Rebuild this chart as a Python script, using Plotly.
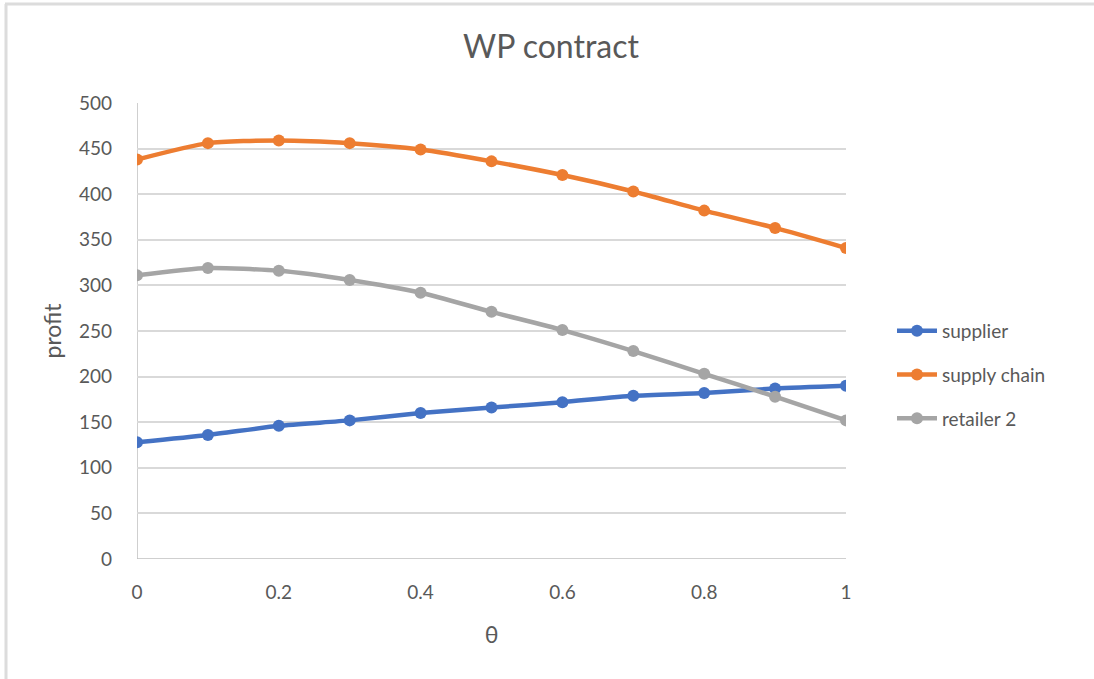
import plotly.graph_objects as go

# θ values on the x axis
theta = [0, 0.1, 0.2, 0.3, 0.4, 0.5, 0.6, 0.7, 0.8, 0.9, 1]

# profit for each party
supplier = [128, 136, 146, 152, 160, 166, 172, 179, 182, 187, 190]
supply_chain = [438, 456, 459, 456, 449, 436, 421, 403, 382, 363, 341]
retailer2 = [311, 319, 316, 306, 292, 271, 251, 228, 203, 178, 152]

y_ticks = [0, 50, 100, 150, 200, 250, 300, 350, 400, 450, 500]
x_ticks = [0, 0.2, 0.4, 0.6, 0.8, 1]
x_tick_text = ["0", "0.2", "0.4", "0.6", "0.8", "1"]

series = [
    ("supplier", supplier, "#4472C4"),
    ("supply chain", supply_chain, "#ED7D31"),
    ("retailer 2", retailer2, "#A5A5A5"),
]

FONT = "Lato, 'Open Sans', sans-serif"
TEXT = "#595959"

fig = go.Figure()
for name, vals, color in series:
    fig.add_trace(go.Scatter(
        x=theta, y=vals, name=name, mode="lines+markers",
        line=dict(color=color, width=4.5, shape="spline", smoothing=0.6),
        marker=dict(color=color, size=12),
        legendgroup=name,
    ))

W, H = 1094, 679
L, R, T, B = 137, 248, 103, 120

fig.update_layout(
    width=W, height=H,
    margin=dict(l=L, r=R, t=T, b=B),
    paper_bgcolor="white", plot_bgcolor="white",
    font=dict(family=FONT, color=TEXT, size=18),
    title=dict(text="WP contract", x=551 / W, xanchor="center",
               y=1 - 47 / H, yanchor="middle",
               font=dict(size=32, color=TEXT, family=FONT)),
    showlegend=True,
    legend=dict(x=(892 - L) / (W - L - R), xanchor="left",
                y=(559 - 312) / (559 - 103), yanchor="top",
                font=dict(size=19, color=TEXT, family=FONT),
                tracegroupgap=16, itemwidth=40,
                bgcolor="rgba(0,0,0,0)"),
    xaxis=dict(range=[0, 1], tickvals=x_ticks, ticktext=x_tick_text,
               showgrid=False, zeroline=False,
               showline=False, ticks="", ticklabelstandoff=20,
               tickfont=dict(size=19, color=TEXT),
               title=dict(text="θ", font=dict(size=23, color=TEXT), standoff=24)),
    yaxis=dict(range=[0, 500], tickvals=y_ticks,
               showgrid=True, gridcolor="#d9d9d9", gridwidth=1.5,
               zeroline=False, showline=False, ticks="",
               ticklabelstandoff=24,
               tickfont=dict(size=19, color=TEXT),
               title=dict(text="profit", font=dict(size=23, color=TEXT), standoff=10)),
)

# axis lines (left and bottom) in Excel-style gray
fig.add_shape(type="line", xref="x", yref="paper", x0=0, x1=0, y0=0, y1=1,
              line=dict(color="#bfbfbf", width=1.5), layer="below")
fig.add_shape(type="line", xref="paper", yref="y", x0=0, x1=1, y0=0, y1=0,
              line=dict(color="#bfbfbf", width=1.5), layer="below")

# chart frame
pw, ph = W - L - R, H - T - B
def px_x(p):
    return (p - L) / pw
def px_y(p):
    return (H - B - p) / ph
fig.add_shape(type="line", xref="paper", yref="paper",
              x0=px_x(6), x1=px_x(6), y0=px_y(4), y1=px_y(H + 5),
              line=dict(color="#dcdcdc", width=3))
fig.add_shape(type="line", xref="paper", yref="paper",
              x0=px_x(5), x1=px_x(W), y0=px_y(4), y1=px_y(4),
              line=dict(color="#dcdcdc", width=3))

fig.write_html("out.html")
